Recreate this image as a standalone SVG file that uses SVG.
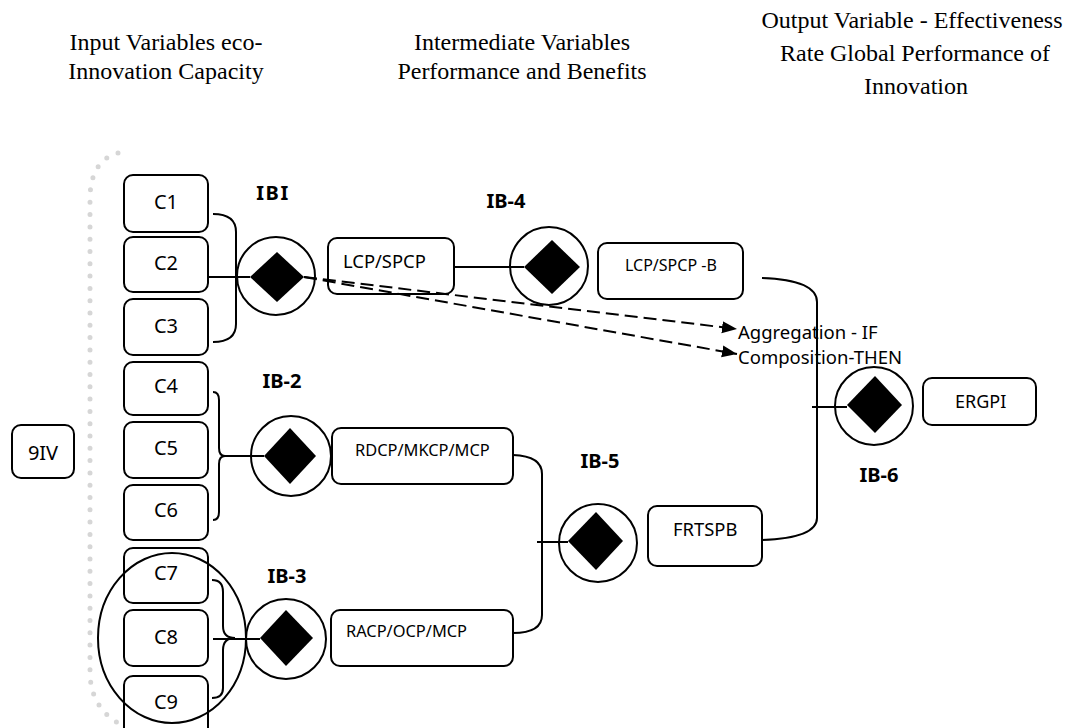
<svg xmlns="http://www.w3.org/2000/svg" width="1066" height="728" viewBox="0 0 1066 728">
<style>
.title{font-family:"Liberation Serif","Times New Roman",serif;font-size:24px;fill:#000;text-anchor:middle}
.lbl{font-family:"Noto Sans","Open Sans",sans-serif;fill:#000}
.c{font-size:20px;text-anchor:middle}
.ib{font-size:20px;font-weight:bold;text-anchor:middle}
.box{fill:#fff;stroke:#000;stroke-width:2}
.circ{fill:none;stroke:#000;stroke-width:2}
.dia{fill:#000}
.conn{fill:none;stroke:#000;stroke-width:2}
.dash{stroke-dasharray:13 6}
</style>
<defs>
<marker id="arr" markerUnits="userSpaceOnUse" markerWidth="16" markerHeight="14" refX="15" refY="6" orient="auto">
<path d="M0,0 L15,6 L0,12 z" fill="#000"/>
</marker>
</defs>
<rect width="1066" height="728" fill="#fff"/>

<g id="titles">
<text class="title" x="166" y="50">Input Variables eco-</text>
<text class="title" x="166" y="79">Innovation Capacity</text>
<text class="title" x="522" y="50">Intermediate Variables</text>
<text class="title" x="522" y="79">Performance and Benefits</text>
<text class="title" x="912" y="28">Output Variable - Effectiveness</text>
<text class="title" x="915" y="61">Rate Global Performance of</text>
<text class="title" x="916" y="94">Innovation</text>
</g>

<path id="dotted-arc" d="M118,153 Q92,160 90,195 L90,675 Q92,712 126,727" fill="none" stroke="#d6d6d6" stroke-width="5" stroke-linecap="round" stroke-dasharray="0 12.3"/>

<g id="node-9IV"><rect class="box" x="12" y="425" width="62" height="53" rx="9"/><text class="lbl c" x="43" y="460">9IV</text></g>

<g id="node-C1"><rect class="box" x="124" y="175" width="84" height="57" rx="9"/><text class="lbl c" x="166" y="209">C1</text></g>
<g id="node-C2"><rect class="box" x="124" y="237" width="84" height="55" rx="9"/><text class="lbl c" x="166" y="270">C2</text></g>
<g id="node-C3"><rect class="box" x="124" y="299" width="84" height="56" rx="9"/><text class="lbl c" x="166" y="333">C3</text></g>
<g id="node-C4"><rect class="box" x="124" y="362" width="84" height="53" rx="9"/><text class="lbl c" x="166" y="393">C4</text></g>
<g id="node-C5"><rect class="box" x="124" y="422" width="84" height="56" rx="9"/><text class="lbl c" x="166" y="455">C5</text></g>
<g id="node-C6"><rect class="box" x="124" y="485" width="84" height="55" rx="9"/><text class="lbl c" x="166" y="517">C6</text></g>
<g id="node-C7"><rect class="box" x="124" y="548" width="84" height="55" rx="9"/><text class="lbl c" x="166" y="580">C7</text></g>
<g id="node-C8"><rect class="box" x="124" y="610" width="84" height="56" rx="9"/><text class="lbl c" x="166" y="644">C8</text></g>
<g id="node-C9"><rect class="box" x="124" y="676" width="84" height="60" rx="9"/><text class="lbl c" x="166" y="709">C9</text></g>

<ellipse id="group-C7-C9" cx="172" cy="638" rx="74" ry="85" class="circ"/>

<g id="node-IBI"><circle class="circ" cx="276" cy="276" r="39"/><polygon class="dia" points="250,277 277,252 304,277 277,302"/><text class="lbl ib" x="273" y="200" letter-spacing="1.5">IBI</text></g>
<g id="node-IB-4"><circle class="circ" cx="549" cy="266" r="39"/><polygon class="dia" points="524,267 552,240 580,267 552,294"/><text class="lbl ib" x="506" y="208">IB-4</text></g>
<g id="node-IB-2"><circle class="circ" cx="291" cy="456" r="40"/><polygon class="dia" points="264,456 290,428 316,456 290,484"/><text class="lbl ib" x="282" y="388">IB-2</text></g>
<g id="node-IB-3"><circle class="circ" cx="286" cy="639" r="40"/><polygon class="dia" points="260,638 286,610 313,638 286,666"/><text class="lbl ib" x="287" y="583">IB-3</text></g>
<g id="node-IB-5"><circle class="circ" cx="598" cy="543" r="39"/><polygon class="dia" points="568,541 596,512 623,541 596,570"/><text class="lbl ib" x="600" y="468">IB-5</text></g>
<g id="node-IB-6"><circle class="circ" cx="874" cy="406" r="39"/><polygon class="dia" points="847,405 875,376 902,405 875,433"/><text class="lbl ib" x="879" y="482">IB-6</text></g>

<g id="node-LCP-SPCP"><rect class="box" x="328" y="238" width="126" height="56" rx="9"/><text class="lbl" x="343" y="268" font-size="18.4">LCP/SPCP</text></g>
<g id="node-LCP-SPCP-B"><rect class="box" x="598" y="243" width="145" height="56" rx="9"/><text class="lbl" x="625" y="271" font-size="16">LCP/SPCP -B</text></g>
<g id="node-RDCP"><rect class="box" x="332" y="428" width="181" height="56" rx="9"/><text class="lbl" x="355" y="456" font-size="16.4">RDCP/MKCP/MCP</text></g>
<g id="node-RACP"><rect class="box" x="331" y="610" width="182" height="56" rx="9"/><text class="lbl" x="346" y="637" font-size="16.4">RACP/OCP/MCP</text></g>
<g id="node-FRTSPB"><rect class="box" x="648" y="506" width="114" height="60" rx="9"/><text class="lbl" x="673" y="536" font-size="18.4">FRTSPB</text></g>
<g id="node-ERGPI"><rect class="box" x="923" y="378" width="113" height="47" rx="9"/><text class="lbl" x="955" y="408" font-size="18">ERGPI</text></g>

<g id="legend">
<text class="lbl" x="738" y="339" font-size="18.5">Aggregation - IF</text>
<text class="lbl" x="738" y="364" font-size="18.5">Composition-THEN</text>
</g>

<g id="connectors">
<path class="conn" d="M213,214 Q236,214 236,232 L236,324 Q236,342 213,342"/>
<path class="conn" d="M208,277 L250,277"/>
<path class="conn" d="M213,392 Q219,392 219,400 L219,448 Q219,456 225,456 Q219,456 219,464 L219,512 Q219,520 213,520"/>
<path class="conn" d="M222,456 L264,456"/>
<path class="conn" d="M212,580 Q223,580 223,592 L223,626 Q223,638 235,638 Q223,638 223,650 L223,688 Q223,698 212,698"/>
<path class="conn" d="M213,639 L260,639"/>
<path class="conn" d="M454,267 L524,267"/>
<path class="conn dash" d="M304,277 L737,329" marker-end="url(#arr)"/>
<path class="conn dash" d="M304,277 L737,354" marker-end="url(#arr)"/>
<path class="conn" d="M513,455 Q542,456 542,474 L542,615 Q542,633 513,633"/>
<path class="conn" d="M537,542 L568,542"/>
<path class="conn" d="M762,278 Q817,280 817,302 L817,518 Q817,538 762,540"/>
<path class="conn" d="M812,407 L847,407"/>
</g>
</svg>
